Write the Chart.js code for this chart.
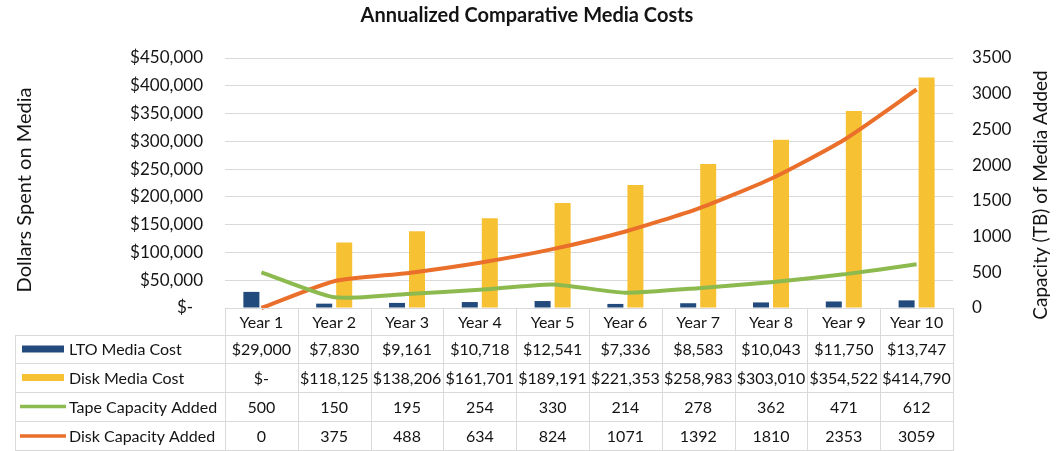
<!DOCTYPE html>
<html lang="en">
<head>
  <meta charset="UTF-8">
  <title>Annualized Comparative Media Costs</title>
  <script src="https://cdn.jsdelivr.net/npm/chart.js"></script>
  <style>
    * { box-sizing: border-box; }
    body, html { margin:0; padding:0; background:#fff; }
    .wrap { width:1058px; height:451px; position:relative; }
  </style>
</head>
<body>
  <div class="wrap">
    <canvas id="mediaChart" width="1058" height="451"></canvas>
  </div>
  <script>
    // Data
    const years = ['Year 1', 'Year 2', 'Year 3', 'Year 4', 'Year 5', 'Year 6', 'Year 7', 'Year 8', 'Year 9', 'Year 10'];
    const ltoCost = [29000, 7830, 9161, 10718, 12541, 7336, 8583, 10043, 11750, 13747];
    const diskCost = [0, 118125, 138206, 161701, 189191, 221353, 258983, 303010, 354522, 414790];
    const tapeCapacity = [500, 150, 195, 254, 330, 214, 278, 362, 471, 612];
    const diskCapacity = [0, 375, 488, 634, 824, 1071, 1392, 1810, 2353, 3059];

    const seriesNames = ['LTO Media Cost', 'Disk Media Cost', 'Tape Capacity Added', 'Disk Capacity Added'];
    const colors = { lto:'#234a7c', disk:'#f7c134', tape:'#8dba4f', diskCap:'#ea6f2b' };
    const FONT = 'Lato, "Open Sans", sans-serif';
    const TEXT = '#141414';
    const GRID = '#d9d9d9';

    const money = v => v === 0 ? '$-' : '$' + v.toLocaleString('en-US');

    // draws title, axis titles and the data table under the plot
    const extras = {
      id: 'extras',
      afterDraw(chart) {
        const c = chart.ctx;
        const area = chart.chartArea;
        const x = chart.scales.x;
        const colW = (area.right - area.left) / years.length;
        const rows = [area.bottom, 335, 363, 392, 421, 451];
        const legendLeft = 15;

        c.save();
        // title
        c.fillStyle = TEXT;
        c.font = 'bold 20px ' + FONT;
        c.textAlign = 'center';
        c.textBaseline = 'middle';
        c.fillText('Annualized Comparative Media Costs', 527, 16);

        // axis titles
        c.font = '20px ' + FONT;
        c.save();
        c.translate(25, 190);
        c.rotate(-Math.PI / 2);
        c.fillText('Dollars Spent on Media', 0, 0);
        c.restore();
        c.font = '19px ' + FONT;
        c.save();
        c.translate(1041, 195);
        c.rotate(-Math.PI / 2);
        c.fillText('Capacity (TB) of Media Added', 0, 0);
        c.restore();

        // table lines
        c.strokeStyle = GRID;
        c.lineWidth = 1;
        c.beginPath();
        c.moveTo(area.left, rows[0] + 0.5);
        c.lineTo(area.right, rows[0] + 0.5);
        for (let r = 1; r < rows.length; r++) {
          const yy = Math.min(rows[r], 450) + 0.5;
          c.moveTo(legendLeft, yy);
          c.lineTo(area.right, yy);
        }
        c.moveTo(legendLeft + 0.5, rows[1]);
        c.lineTo(legendLeft + 0.5, 451);
        for (let i = 0; i <= years.length; i++) {
          const xx = Math.round(area.left + i * colW) + 0.5;
          c.moveTo(xx, rows[0]);
          c.lineTo(xx, 451);
        }
        c.stroke();

        // header + cells
        c.fillStyle = TEXT;
        c.textAlign = 'center';
        c.font = '16px ' + FONT;
        const table = [
          years,
          ltoCost.map(money),
          diskCost.map(money),
          tapeCapacity.map(String),
          diskCapacity.map(String)
        ];
        table.forEach((row, r) => {
          const yMid = (rows[r] + rows[r + 1]) / 2 + 1;
          row.forEach((txt, i) => {
            c.fillText(txt, x.getPixelForValue(i), yMid);
          });
        });

        // legend keys + names
        c.textAlign = 'left';
        const keys = [colors.lto, colors.disk, colors.tape, colors.diskCap];
        seriesNames.forEach((name, r) => {
          const yMid = (rows[r + 1] + rows[r + 2]) / 2;
          if (r < 2) {
            c.fillStyle = keys[r];
            c.fillRect(22, yMid - 3.5, 42, 7);
          } else {
            c.strokeStyle = keys[r];
            c.lineWidth = 3.5;
            c.beginPath();
            c.moveTo(20, yMid);
            c.lineTo(66, yMid);
            c.stroke();
          }
          c.fillStyle = TEXT;
          c.fillText(name, 69, yMid + 1);
        });
        c.restore();
      }
    };

    new Chart(document.getElementById('mediaChart'), {
      data: {
        labels: years,
        datasets: [
          { type:'line', label:seriesNames[2], data:tapeCapacity, yAxisID:'y1', borderColor:colors.tape,
            borderWidth:4, pointRadius:0, tension:0.2, order:0, clip:6 },
          { type:'line', label:seriesNames[3], data:diskCapacity, yAxisID:'y1', borderColor:colors.diskCap,
            borderWidth:4, pointRadius:0, tension:0.2, order:0, clip:6 },
          { type:'bar', label:seriesNames[0], data:ltoCost, yAxisID:'y', backgroundColor:colors.lto,
            categoryPercentage:0.55, barPercentage:0.8, order:1 },
          { type:'bar', label:seriesNames[1], data:diskCost, yAxisID:'y', backgroundColor:colors.disk,
            categoryPercentage:0.55, barPercentage:0.8, order:1 }
        ]
      },
      options: {
        responsive: false,
        animation: false,
        layout: { padding: { top:58, bottom:143, left:0, right:0 } },
        plugins: { legend:{ display:false }, title:{ display:false }, tooltip:{ enabled:false } },
        scales: {
          x: { display:false },
          y: {
            position:'left', min:0, max:450000,
            ticks: { stepSize:50000, padding:22, color:TEXT, font:{ family:FONT, size:17 },
              callback: v => v === 0 ? '$-\u2007' : '$' + v.toLocaleString('en-US') },
            grid: { color:GRID, drawTicks:false },
            border: { display:false },
            afterFit: s => { s.width = 225; }
          },
          y1: {
            position:'right', min:0, max:3500,
            ticks: { stepSize:500, padding:19, color:TEXT, font:{ family:FONT, size:17 },
              callback: v => String(v) },
            grid: { drawOnChartArea:false, drawTicks:false },
            border: { display:false },
            afterFit: s => { s.width = 105; }
          }
        }
      },
      plugins: [extras]
    });
  </script>
</body>
</html>
